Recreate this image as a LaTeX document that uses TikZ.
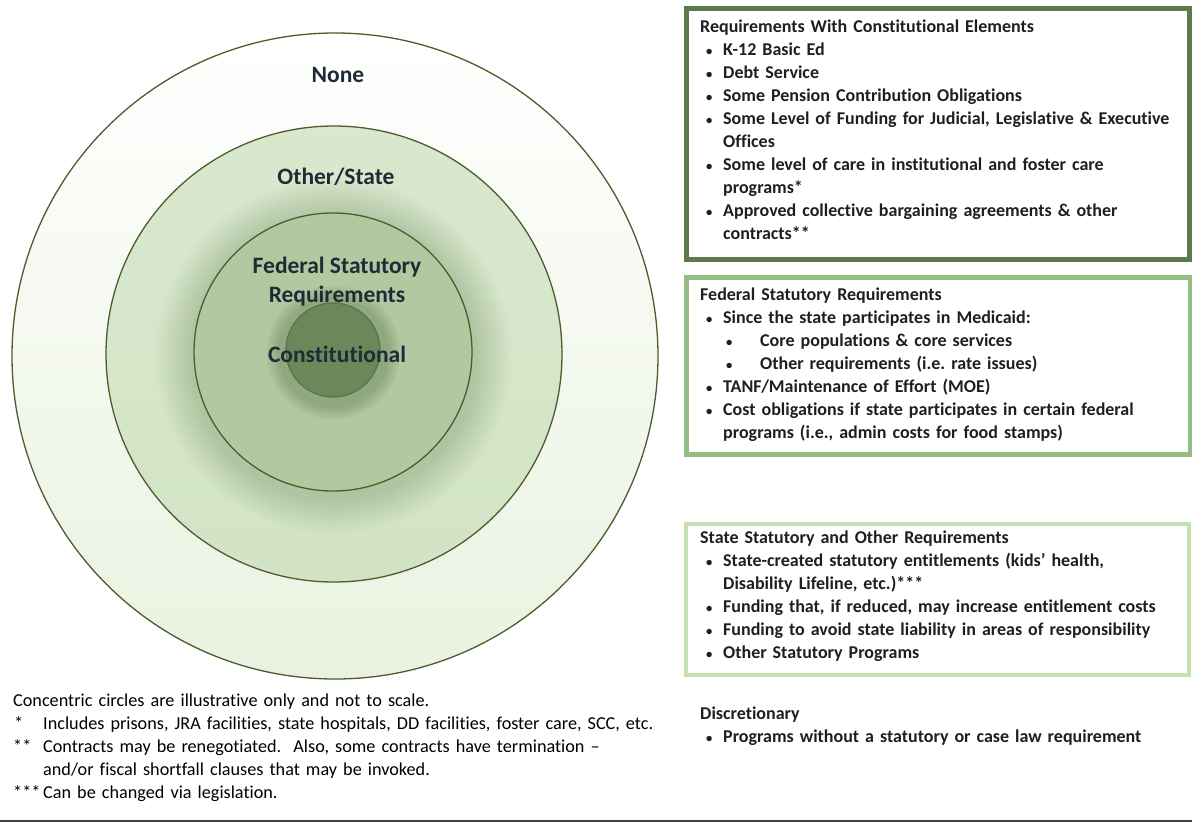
\documentclass[tikz,border=0pt]{standalone}
\usepackage{fontspec}
\setmainfont{Carlito}[Ligatures=NoCommon]
\usepackage{tikz}
\usetikzlibrary{positioning,fadings}
\frenchspacing

\definecolor{ringline}{HTML}{4E5B2C}
\definecolor{outerfill}{HTML}{E9F2E0}
\definecolor{midfill}{HTML}{D2E4C5}
\definecolor{fedfill}{HTML}{B1C8A0}
\definecolor{corefill}{HTML}{6A8859}
\definecolor{ringshadow}{HTML}{5E7A4E}
\definecolor{labelink}{HTML}{1F2B36}
\definecolor{boxdark}{HTML}{5B7B4A}
\definecolor{boxmid}{HTML}{93BD83}
\definecolor{boxpale}{HTML}{C4E0B5}

% list helpers for the text blocks
\newcommand{\bdot}{\scalebox{.7}{\textbullet}}
\newcommand{\bul}[1]{\par\noindent\hangindent=23pt\hangafter=1\makebox[23pt][l]{\hspace{6pt}\bdot}#1\par}
\newcommand{\subbul}[1]{\par\noindent\makebox[60pt][l]{\hspace{26pt}\bdot}#1\par}
\newcommand{\fnote}[2]{\par\noindent\hangindent=30pt\hangafter=1\makebox[30pt][l]{#1}#2\par}

\begin{document}
\begin{tikzpicture}[x=1pt,y=-1pt,
  ring/.style={circle,draw=ringline,line width=1.3pt,inner sep=0pt},
  ringlabel/.style={font=\bfseries\fontsize{23.5}{29}\selectfont,text=labelink,align=center},
  reqbox/.style={anchor=north west,inner sep=0pt},
  listtext/.style={anchor=north west,inner sep=0pt,text width=485pt,
    font=\bfseries\fontsize{18}{23}\selectfont,text=black!88}]
\useasboundingbox[fill=white] (0,0) rectangle (1192,823);
% ---- concentric rings ----
\node[ring,top color=white,bottom color=outerfill,minimum size=646] (none) at (335,356) {};
\node[ring,top color=midfill!85!white,bottom color=midfill,minimum size=456] (otherstate) at (334,354) {};
\fill[ringshadow,opacity=.3,path fading=circle with fuzzy edge 20 percent]
  (333,356) circle[radius=178];
\node[ring,fill=fedfill,minimum size=278] (federal) at (333,352) {};
\fill[ringshadow,opacity=.4,path fading=circle with fuzzy edge 20 percent]
  (333,352) circle[radius=68];
\node[ring,fill=corefill,draw=corefill!85!black,minimum size=94] (constitutional) at (333,350) {};
\node[ringlabel] (nonelbl) at (338,75) {None};
\node[ringlabel] (otherlbl) at (336,177) {Other/State};
\node[ringlabel] (fedlbl) at (337,282) {Federal Statutory\\Requirements};
\node[ringlabel] (constlbl) at (337,354) {Constitutional};
% ---- requirement boxes ----
\node[reqbox,draw=boxdark,line width=5pt,minimum width=503,minimum height=251] (conbox) at (684,6) {};
\node[reqbox,draw=boxmid,line width=5pt,minimum width=504,minimum height=177] (fedbox) at (684,275) {};
\node[reqbox,draw=boxpale,line width=3.5pt,minimum width=503,minimum height=151] (statebox) at (684,522) {};
\node[listtext] (context) at ([shift={(16,14)}]conbox.north west) {%
  Requirements With Constitutional Elements
  \bul{K-12 Basic Ed}
  \bul{Debt Service}
  \bul{Some Pension Contribution Obligations}
  \bul{Some Level of Funding for Judicial, Legislative \& Executive\newline Offices}
  \bul{Some level of care in institutional and foster care\newline programs*}
  \bul{Approved collective bargaining agreements \& other\newline contracts**}};
\node[listtext] (fedtext) at ([shift={(16,13)}]fedbox.north west) {%
  Federal Statutory Requirements
  \bul{Since the state participates in Medicaid:}
  \subbul{Core populations \& core services}
  \subbul{Other requirements (i.e. rate issues)}
  \bul{TANF/Maintenance of Effort (MOE)}
  \bul{Cost obligations if state participates in certain federal\newline programs (i.e., admin costs for food stamps)}};
\node[listtext] (statetext) at ([shift={(16,9)}]statebox.north west) {%
  State Statutory and Other Requirements
  \bul{State-created statutory entitlements (kids’ health,\newline Disability Lifeline, etc.)***}
  \bul{Funding that, if reduced, may increase entitlement costs}
  \bul{Funding to avoid state liability in areas of responsibility}
  \bul{Other Statutory Programs}};
\node[listtext] (disctext) at (700,707) {%
  Discretionary
  \bul{Programs without a statutory or case law requirement}};
% ---- footnotes ----
\node[listtext,font=\fontsize{18.2}{23}\selectfont,text=black,text width=670pt] (notes) at (13,694) {%
  Concentric circles are illustrative only and not to scale.
  \fnote{\hspace{1pt}*}{Includes prisons, JRA facilities, state hospitals, DD facilities, foster care, SCC, etc.}
  \fnote{**}{Contracts may be renegotiated.\ \ Also, some contracts have termination –\newline and/or fiscal shortfall clauses that may be invoked.}
  \fnote{***}{Can be changed via legislation.}};
\draw[black!75,line width=2pt] (0,821) -- (1192,821);
\end{tikzpicture}
\end{document}
